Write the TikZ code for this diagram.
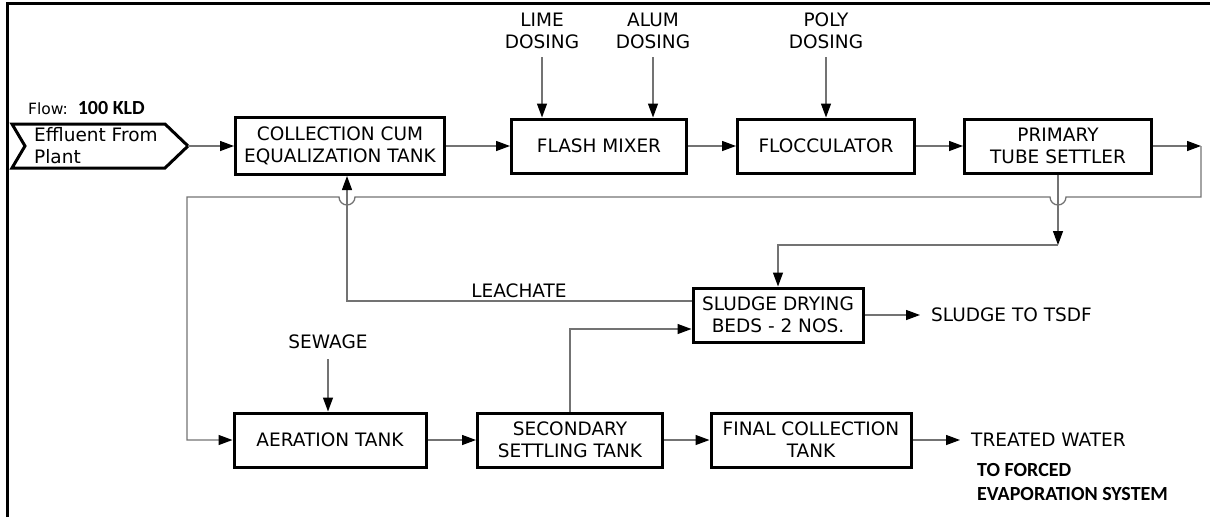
\documentclass[tikz,border=0pt]{standalone}
\usepackage{fontspec}
\setmainfont{DejaVu Sans}
\newfontfamily\calfont{Carlito}
\usetikzlibrary{arrows.meta}
\tikzset{
  box/.style={draw, line width=3pt, minimum width=#1, minimum height=54pt, inner sep=0pt, align=center, font=\fontsize{18.5}{22}\selectfont},
  box/.default=180pt,
  txt/.style={inner sep=0pt, align=center, font=\fontsize{18.5}{22}\selectfont},
  line/.style={draw=black!55, line width=1.3pt},
  flow/.style={line, -{Triangle[length=14pt,width=10pt,color=black]}}
}

\begin{document}
\begin{tikzpicture}[x=1pt,y=-1pt]
\useasboundingbox (0,0) rectangle (1210,517);
\draw[line width=3pt] (7,517) -- (7,3) -- (1210,3);
\node[box=209pt, minimum height=57pt] (coll) at (340,146) {COLLECTION CUM\\EQUALIZATION TANK};
\node[box=175pt] (flash) at (599,146) {FLASH MIXER};
\node[box=177pt] (floc) at (826,146) {FLOCCULATOR};
\node[box=187pt] (prim) at (1058,146) {PRIMARY\\TUBE SETTLER};
\node[box=170pt] (sludge) at (778,315) {SLUDGE DRYING\\BEDS - 2 NOS.};
\node[box=192pt] (aer) at (330,440) {AERATION TANK};
\node[box=185pt] (sec) at (570,440) {SECONDARY\\SETTLING TANK};
\node[box=200pt] (fin) at (811,440) {FINAL COLLECTION\\TANK};
\draw[line width=3pt] (12,124) -- (165,124) -- (188,146) -- (165,168) -- (12,168) -- (25,146) -- cycle;
\coordinate (efftip) at (188,146);
\node[txt, align=left, anchor=west] (eff) at (34,146) {Effluent From\\Plant};
\node[txt, anchor=west, font=\fontsize{15.5}{18}\selectfont] (flowlbl) at (28,108) {Flow:\ \ {\calfont\bfseries\fontsize{20}{24}\selectfont 100 KLD}};
\node[txt] (lime) at (542,31) {LIME\\DOSING};
\node[txt] (alum) at (653,31) {ALUM\\DOSING};
\node[txt] (poly) at (826,31) {POLY\\DOSING};
\node[txt] (sew) at (328,342) {SEWAGE};
\node[txt] (leach) at (519,291) {LEACHATE};
\node[txt, anchor=west] (tsdf) at (931,315) {SLUDGE TO TSDF};
\node[txt, anchor=west] (treat) at (971,440) {TREATED WATER};
\node[txt, align=left, anchor=west, font=\calfont\bfseries\fontsize{20}{24}\selectfont] (evap) at (977,482) {TO FORCED\\EVAPORATION SYSTEM};
\draw[flow] (efftip) -- (coll);
\draw[flow] (coll) -- (flash);
\draw[flow] (flash) -- (floc);
\draw[flow] (floc) -- (prim);
\draw[flow, shorten <=8pt] (lime.south) -- (lime.south |- flash.north);
\draw[flow, shorten <=8pt] (alum.south) -- (alum.south |- flash.north);
\draw[flow, shorten <=8pt] (poly.south) -- (poly.south |- floc.north);
\coordinate (pr) at (1201,146);
\coordinate (rb) at (1201,197);
\coordinate (lb) at (187,197);
\draw[flow] (prim) -- (pr);
\draw[flow] (pr) -- (rb) -- (1066,197) arc[start angle=0, end angle=180, radius=8] -- (355,197) arc[start angle=0, end angle=180, radius=8] -- (lb) -- (lb |- aer) -- (aer);
\coordinate (pd) at (1058,245);
\draw[flow] (prim) -- (pd);
\draw[flow] (pd) -| (sludge);
\draw[flow] ([yshift=14pt]sludge.west) -| ([xshift=7pt]coll.south);
\draw[flow] (sec.north) |- ([yshift=-14pt]sludge.west);
\draw[flow, shorten >=11pt] (sludge) -- (tsdf.west);
\draw[flow, shorten <=10pt] (sew.south) -- (sew.south |- aer.north);
\draw[flow] (aer) -- (sec);
\draw[flow] (sec) -- (fin);
\draw[flow, shorten >=11pt] (fin) -- (treat.west);
\end{tikzpicture}
\end{document}
